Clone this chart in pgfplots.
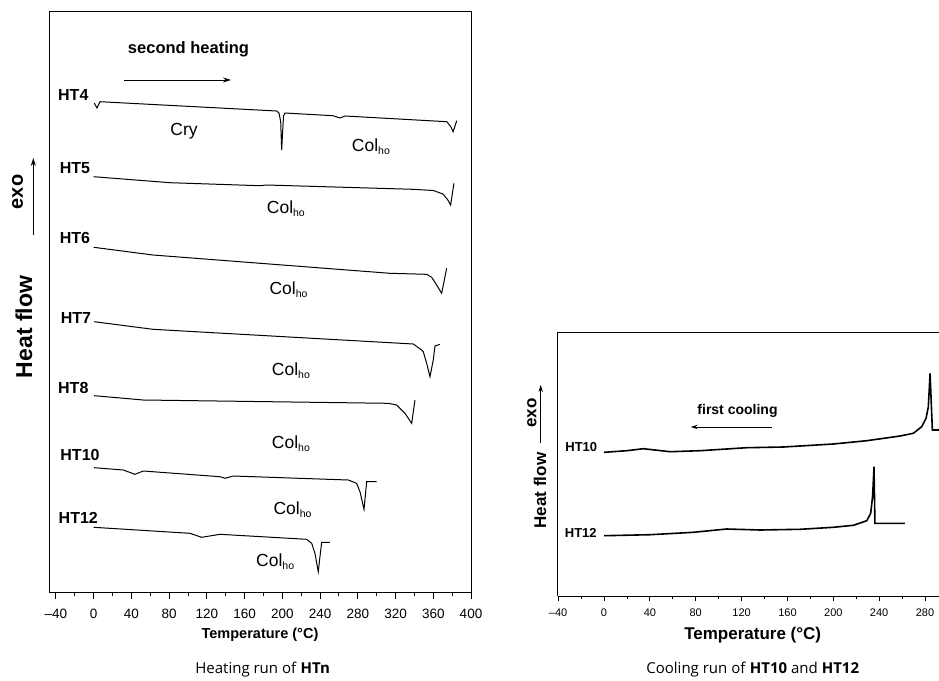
\documentclass[border=0pt]{standalone}
\usepackage{fontspec}
\setmainfont{Liberation Sans}
\newfontfamily\capfont{Open Sans}
\usepackage{pgfplots}
\pgfplotsset{compat=1.18}
\usetikzlibrary{arrows.meta}

% Col with subscript ho
\newcommand{\colho}{Col\raisebox{-3pt}{\fontsize{10.5}{11}\selectfont ho}}

\begin{document}
\begin{tikzpicture}
\path[use as bounding box] (0pt,0pt) rectangle (939pt,-680pt);

% ---------- heating run ----------
\begin{axis}[
  at={(49.3pt,-11pt)}, anchor=north west, scale only axis,
  width=421.7pt, height=581pt,
  xmin=-47, xmax=400, ymin=0, ymax=581,
  xtick={-40,0,...,400},
  xticklabels={–40,0,40,80,120,160,200,240,280,320,360,400},
  minor x tick num=1, xtick pos=bottom, tick align=outside,
  major tick length=7pt, minor tick length=4pt,
  ytick=\empty,
  xticklabel style={font=\fontsize{13.5}{14}\selectfont, yshift=-7pt},
  axis line style={line width=1pt},
  every tick/.style={black, line width=0.9pt},
  crv/.style={black, solid, line width=1pt, mark=none},
  clip=false,
]
% HT4
\addplot[crv] coordinates {(0.6,489) (3.5,484) (6.7,490.3) (194.0,481) (196.5,479) (198.3,470) (199.3,442) (200.3,460) (201.3,476) (202.8,479) (253.7,476.3) (261.1,474) (266.4,476) (374.3,470.3) (378.8,465) (381.0,460.3) (384.9,471.3)};
% HT5
\addplot[crv] coordinates {(0,415.3) (80.9,409.3) (176.3,406.3) (183.4,407) (338.5,402.7) (360,401.5) (370.3,398) (375.5,392) (378.4,387) (381.9,408.7)};
% HT6
\addplot[crv] coordinates {(0,344.7) (62.9,337) (314.1,318.7) (353.0,317.7) (358.3,314.7) (363.6,307) (368.9,298.7) (374.2,323.7)};
% HT7
\addplot[crv] coordinates {(0.6,270.3) (62.9,262.7) (338.8,248) (347.7,242) (349.4,240.3) (353.0,228.7) (356.5,215.3) (360,232) (361.8,246) (367.1,247.7)};
% HT8
\addplot[crv] coordinates {(0.6,196.3) (52.6,192) (312.3,188.7) (321.2,187) (330.0,178.7) (337.1,168.7) (340.6,192)};
% HT10
\addplot[crv] coordinates {(0.6,124.3) (31.4,122) (43.8,117.7) (52.6,121) (133.9,115.3) (139.2,113.7) (148.0,116) (269.9,112) (278.8,108.7) (282.3,100.3) (286.6,82.7) (289.4,110.3) (300,110.3)};
% HT12
\addplot[crv] coordinates {(0,64.7) (102.1,58.7) (114.5,54.7) (133.9,57.7) (225.8,52.7) (231.1,48.7) (234.6,38.7) (238.1,20.3) (239.9,35.3) (241.7,49.7) (250.5,49.7)};
\end{axis}

% ---------- cooling run ----------
\begin{axis}[
  at={(557.7pt,-332.3pt)}, anchor=north west, scale only axis,
  width=381.3pt, height=263.7pt,
  xmin=-40.4, xmax=292.2, ymin=0, ymax=263.7,
  axis x line*=box, axis y line*=left,
  xtick={-40,0,...,280},
  xticklabels={–40,0,40,80,120,160,200,240,280},
  minor x tick num=1, xtick pos=bottom, tick align=outside,
  major tick length=5pt, minor tick length=3pt,
  ytick=\empty,
  xticklabel style={font=\fontsize{11}{12}\selectfont, yshift=-4pt},
  axis line style={-, line width=1pt},
  every tick/.style={black, line width=0.9pt},
  crv/.style={black, solid, line width=1.6pt, mark=none},
  clip=false,
]
% HT10
\addplot[crv] coordinates {(0,143.7) (19.8,145.3) (34.3,147.3) (57.6,144.3) (83.7,145.3) (124.5,148.3) (156.4,149) (200.0,152) (229.2,155.3) (258.2,160) (269.8,162.7) (277.1,169.3) (280.9,177.7) (282.9,189.3) (284.4,222.7) (286.4,166) (292.2,166)};
% HT12
\addplot[crv] coordinates {(0,60.3) (40.1,61.3) (77.9,63.7) (107.0,67) (136.1,66) (171.0,66.7) (200.0,68.7) (217.5,70.7) (229.2,75.3) (232.6,82.7) (234.3,100) (235.5,129.3) (236.3,72.7) (262.5,72.7)};
\end{axis}

% ---------- text, heating ----------
\node[font=\bfseries\fontsize{16.5}{18}\selectfont, inner sep=0] at (188.5pt,-49pt) {second heating};
\draw[line width=1pt, -{Stealth[length=8pt,width=5pt]}] (124pt,-80pt) -- (231pt,-80pt);
\begin{scope}[every node/.style={font=\bfseries\fontsize{16}{18}\selectfont, inner sep=0}]
\node at (73.3pt,-94.7pt) {HT4};
\node at (75pt,-167.8pt) {HT5};
\node at (75pt,-237.5pt) {HT6};
\node at (76pt,-317.5pt) {HT7};
\node at (73.3pt,-387.5pt) {HT8};
\node at (80pt,-455pt) {HT10};
\node at (78.3pt,-518pt) {HT12};
\end{scope}
\node[font=\fontsize{17.5}{19}\selectfont, inner sep=0] at (184pt,-131pt) {Cry};
\begin{scope}[every node/.style={font=\fontsize{17.5}{19}\selectfont, inner sep=0, anchor=base west}]
\node at (351.7pt,-151.7pt) {\colho};
\node at (266.7pt,-213.3pt) {\colho};
\node at (269.3pt,-294pt) {\colho};
\node at (271.7pt,-375pt) {\colho};
\node at (271.7pt,-448.3pt) {\colho};
\node at (273.3pt,-514pt) {\colho};
\node at (256pt,-566pt) {\colho};
\end{scope}
\node[rotate=90, font=\bfseries\fontsize{20}{22}\selectfont, inner sep=0] at (17.5pt,-192pt) {exo};
\draw[line width=1pt, -{Stealth[length=8pt,width=5pt]}] (33.3pt,-235pt) -- (33.3pt,-158pt);
\node[rotate=90, font=\bfseries\fontsize{23}{25}\selectfont, inner sep=0] at (24pt,-327pt) {Heat flow};
\node[font=\bfseries\fontsize{14.5}{16}\selectfont, inner sep=0] at (260pt,-635pt) {Temperature (°C)};
\node[font=\capfont\fontsize{15}{17}\selectfont, inner sep=0] at (262.7pt,-670pt) {Heating run of \textbf{HTn}};

% ---------- text, cooling ----------
\node[font=\bfseries\fontsize{13}{14}\selectfont, inner sep=0] at (581.3pt,-447pt) {HT10};
\node[font=\bfseries\fontsize{13}{14}\selectfont, inner sep=0] at (580.8pt,-532.8pt) {HT12};
\node[font=\bfseries\fontsize{14}{15}\selectfont, inner sep=0] at (737.5pt,-411pt) {first cooling};
\draw[line width=1pt, -{Stealth[length=7pt,width=4.5pt]}] (771.7pt,-427pt) -- (690.7pt,-427pt);
\node[rotate=90, font=\bfseries\fontsize{17}{19}\selectfont, inner sep=0] at (532pt,-413pt) {exo};
\draw[line width=1pt, -{Stealth[length=7pt,width=4.5pt]}] (540.7pt,-443.3pt) -- (540.7pt,-385pt);
\node[rotate=90, font=\bfseries\fontsize{17}{19}\selectfont, inner sep=0] at (540pt,-490.5pt) {Heat flow};
\node[font=\bfseries\fontsize{17}{19}\selectfont, inner sep=0] at (752.7pt,-635.5pt) {Temperature (°C)};
\node[font=\capfont\fontsize{15}{17}\selectfont, inner sep=0] at (752.7pt,-670pt) {Cooling run of \textbf{HT10} and \textbf{HT12}};
\end{tikzpicture}
\end{document}
